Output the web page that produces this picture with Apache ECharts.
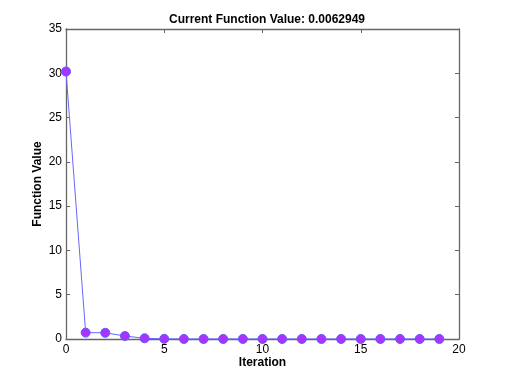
<!DOCTYPE html>
<html>
<head>
<meta charset="utf-8">
<script src="https://cdn.jsdelivr.net/npm/echarts@6/dist/echarts.min.js"></script>
<style>
  html, body { margin: 0; padding: 0; background: #fff; }
  #chart { width: 507px; height: 382px; }
</style>
</head>
<body>
<div id="chart"></div>
<script>
// iteration number vs function value
const iterations = [0, 1, 2, 3, 4, 5, 6, 7, 8, 9, 10, 11, 12, 13, 14, 15, 16, 17, 18, 19];
const fvals = [30.2, 0.72, 0.7, 0.34, 0.08, 0.02, 0.0063, 0.0063, 0.0063, 0.0063,
  0.0063, 0.0063, 0.0063, 0.0063, 0.0063, 0.0063, 0.0063, 0.0063, 0.0063, 0.0063];
const titleText = 'Current Function Value: 0.0062949';

const chart = echarts.init(document.getElementById('chart'));
const font = 'Liberation Sans, Arial, sans-serif';
const axisColor = '#666';

// opposite-side axes, only there to close the box with inward ticks
const boxAxis = (pos, min, max) => ({
  type: 'value', position: pos, min: min, max: max, interval: 5,
  axisLine: { show: true, onZero: false, lineStyle: { color: axisColor, width: 1.3 } },
  axisTick: { show: true, inside: true, length: 4, lineStyle: { color: axisColor } },
  axisLabel: { show: false },
  splitLine: { show: false }
});

chart.setOption({
  animation: false,
  title: {
    text: titleText, left: 262, top: 9, textAlign: 'center',
    textStyle: { fontFamily: font, fontSize: 12, fontWeight: 'bold', color: '#000' }
  },
  grid: { left: 66, right: 48, top: 29, bottom: 43 },
  xAxis: [{
    type: 'value', min: 0, max: 20, interval: 5,
    name: 'Iteration', nameLocation: 'middle', nameGap: 18, nameMoveOverlap: false,
    nameTextStyle: { fontFamily: font, fontSize: 12, fontWeight: 'bold', color: '#000' },
    axisLine: { show: true, onZero: false, lineStyle: { color: axisColor, width: 1.3 } },
    axisTick: { show: true, inside: true, length: 4, lineStyle: { color: axisColor } },
    axisLabel: { fontFamily: font, fontSize: 12, color: '#000', margin: 5 },
    splitLine: { show: false }
  }, boxAxis('top', 0, 20)],
  yAxis: [{
    type: 'value', min: 0, max: 35, interval: 5,
    name: 'Function Value', nameLocation: 'middle', nameGap: 22, nameMoveOverlap: false,
    nameTextStyle: { fontFamily: font, fontSize: 12, fontWeight: 'bold', color: '#000' },
    axisLine: { show: true, onZero: false, lineStyle: { color: axisColor, width: 1.3 } },
    axisTick: { show: true, inside: true, length: 4, lineStyle: { color: axisColor } },
    axisLabel: { fontFamily: font, fontSize: 12, color: '#000', margin: 4 },
    splitLine: { show: false }
  }, boxAxis('right', 0, 35)],
  series: [{
    type: 'line',
    data: iterations.map((it, i) => [it, fvals[i]]),
    symbol: 'circle', symbolSize: 9,
    lineStyle: { color: '#6666ff', width: 1 },
    itemStyle: { color: '#aa33ff', borderColor: '#5a5aff', borderWidth: 1 },
    z: 5
  }]
});
</script>
</body>
</html>
